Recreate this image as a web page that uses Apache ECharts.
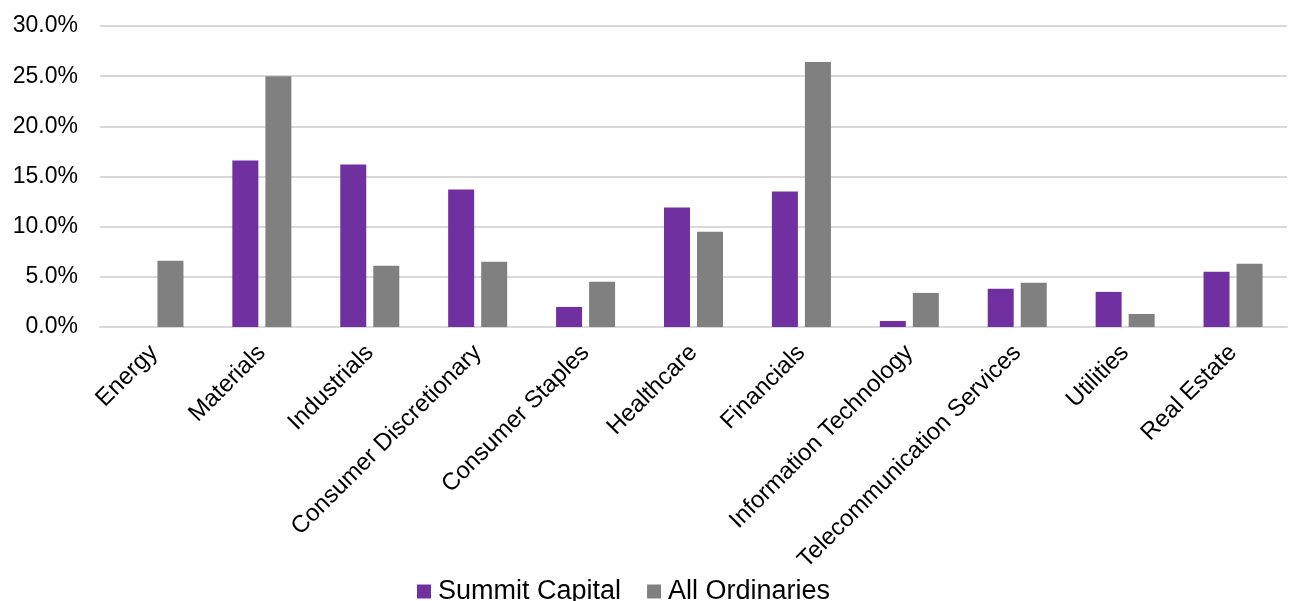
<!DOCTYPE html>
<html lang="en">
<head>
    <meta charset='utf-8' />
    <title>sector weights</title>
    <script src="https://cdn.jsdelivr.net/npm/echarts@6.0.0/dist/echarts.min.js"></script>
    <style>
        html, body { margin: 0; padding: 0; background: #fff; }
        #chart { width: 1291px; height: 601px; }
    </style>
</head>
<body>
<div id="chart"></div>
<script>
    // sectors on the x axis
    var sectors = ['Energy', 'Materials', 'Industrials', 'Consumer Discretionary', 'Consumer Staples',
        'Healthcare', 'Financials', 'Information Technology', 'Telecommunication Services', 'Utilities', 'Real Estate'];
    // weights in percent
    var summitCapital = [0, 16.6, 16.2, 13.7, 2.0, 11.9, 13.5, 0.6, 3.8, 3.5, 5.5];
    var allOrdinaries = [6.6, 25.0, 6.1, 6.5, 4.5, 9.5, 26.4, 3.4, 4.4, 1.3, 6.3];
    var yTicks = [0, 5, 10, 15, 20, 25, 30];

    var myChart = echarts.init(document.getElementById('chart'));
    var font = 'Liberation Sans, Arial, sans-serif';

    var option = {
        animation: false,
        textStyle: { fontFamily: font },
        legend: {
            top: 578,
            left: 417,
            padding: 0,
            itemWidth: 14,
            itemHeight: 14,
            itemGap: 26,
            icon: 'rect',
            textStyle: { fontSize: 27, color: '#000', fontFamily: font, padding: [0, 0, 0, 2] }
        },
        grid: {
            left: 100,
            right: 4,
            top: 26,
            bottom: 274,
            containLabel: false
        },
        xAxis: {
            type: 'category',
            data: sectors,
            axisLine: { lineStyle: { color: '#d9d9d9', width: 2 } },
            axisTick: { show: false },
            axisLabel: {
                rotate: 45,
                interval: 0,
                fontSize: 24,
                color: '#000',
                margin: 22,
                fontFamily: font
            }
        },
        yAxis: {
            type: 'value',
            min: yTicks[0],
            max: yTicks[yTicks.length - 1],
            interval: 5,
            axisLine: { show: false },
            axisTick: { show: false },
            splitLine: { lineStyle: { color: '#d9d9d9', width: 2 } },
            axisLabel: {
                fontSize: 23,
                color: '#000',
                margin: 22,
                fontFamily: font,
                formatter: function (v) { return v.toFixed(1) + '%'; }
            }
        },
        series: [
            {
                name: 'Summit Capital',
                type: 'bar',
                data: summitCapital,
                barWidth: 26,
                barGap: '27%',
                itemStyle: { color: '#7030a0' }
            },
            {
                name: 'All Ordinaries',
                type: 'bar',
                data: allOrdinaries,
                barWidth: 26,
                barGap: '27%',
                itemStyle: { color: '#808080' }
            }
        ]
    };

    option && myChart.setOption(option);
</script>
</body>
</html>
